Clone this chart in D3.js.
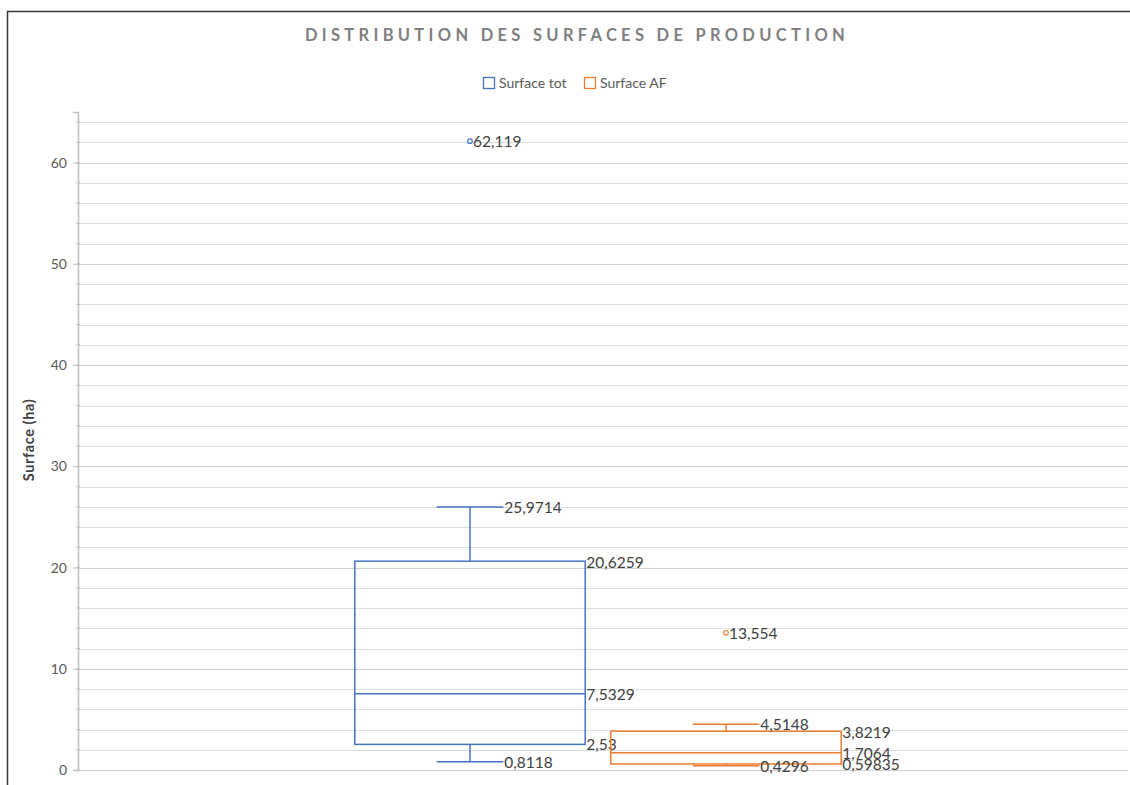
<!DOCTYPE html>
<html>
<head>
<meta charset="utf-8">
<script src="https://cdn.jsdelivr.net/npm/d3@7"></script>
<style>
  body { margin: 0; background: #fff; overflow: hidden; }
  text { font-family: Lato, "Open Sans", sans-serif; }
</style>
</head>
<body>
<div id="chart"></div>
<script>
(function () {

  // series and their box-plot stats
  const series = ['Surface tot', 'Surface AF']
  const colors = ['#4472C4', '#ED7D31']
  const mins = [0.8118, 0.4296]
  const q1s = [2.53, 0.59835]
  const medians = [7.5329, 1.7064]
  const q3s = [20.6259, 3.8219]
  const maxs = [25.9714, 4.5148]
  const outliers = [[62.119], [13.554]]

  const labelMin = ['0,8118', '0,4296']
  const labelQ1 = ['2,53', '0,59835']
  const labelMed = ['7,5329', '1,7064']
  const labelQ3 = ['20,6259', '3,8219']
  const labelMax = ['25,9714', '4,5148']
  const labelOut = [['62,119'], ['13,554']]

  const majorTicks = [0, 10, 20, 30, 40, 50, 60]

  const width = 1130
  const height = 785
  const margin = { top: 112, right: 2, bottom: 15, left: 78 }

  const svg = d3.select("#chart").append("svg")
    .attr("width", width)
    .attr("height", height)
    .style("display", "block")

  // chart frame (right and bottom edges fall outside the picture)
  svg.append("rect")
    .attr("x", 7.5).attr("y", 11.5)
    .attr("width", 1140).attr("height", 800)
    .attr("fill", "none")
    .attr("stroke", "#3a3a3a")
    .attr("stroke-width", 1.5)

  const yPositionScale = d3.scaleLinear()
    .domain([0, 65])
    .range([height - margin.bottom, margin.top])

  const xPositionScale = d3.scaleBand()
    .domain(series)
    .range([342, 854])

  const plotRight = width - margin.right

  // minor gridlines every 2
  const minor = d3.range(0, 65, 2)
  svg.append("g").selectAll("line")
    .data(minor)
    .join("line")
    .attr("x1", margin.left)
    .attr("x2", plotRight)
    .attr("y1", d => Math.round(yPositionScale(d)) + 0.5)
    .attr("y2", d => Math.round(yPositionScale(d)) + 0.5)
    .attr("stroke", "#dedede")
    .attr("stroke-width", 1)

  // major gridlines
  svg.append("g").selectAll("line")
    .data(majorTicks)
    .join("line")
    .attr("x1", margin.left)
    .attr("x2", plotRight)
    .attr("y1", d => Math.round(yPositionScale(d)) + 0.5)
    .attr("y2", d => Math.round(yPositionScale(d)) + 0.5)
    .attr("stroke", "#d0d0d0")
    .attr("stroke-width", 1.2)

  // y axis
  const yAxis = d3.axisLeft(yPositionScale)
    .tickValues(majorTicks)
    .tickSize(5)
    .tickPadding(6)
  const yg = svg.append("g")
    .attr("class", "axis y-axis")
    .attr("transform", "translate(" + margin.left + ",0)")
    .call(yAxis)
  yg.select(".domain").attr("stroke", "#bfbfbf").attr("stroke-width", 1.5)
  yg.selectAll(".tick line").attr("stroke", "#bfbfbf")
  yg.selectAll(".tick text")
    .attr("fill", "#595959")
    .style("font-size", "14px")

  // minor ticks on the axis
  yg.append("g").selectAll("line")
    .data(minor)
    .join("line")
    .attr("x1", -2).attr("x2", 2)
    .attr("y1", d => yPositionScale(d))
    .attr("y2", d => yPositionScale(d))
    .attr("stroke", "#bfbfbf")

  // y axis title
  svg.append("text")
    .attr("transform", "translate(34,440) rotate(-90)")
    .attr("text-anchor", "middle")
    .attr("fill", "#404040")
    .style("font-size", "14.5px")
    .style("font-weight", "bold")
    .style("letter-spacing", "0.6px")
    .text("Surface (ha)")

  // title
  svg.append("text")
    .attr("x", 577)
    .attr("y", 41)
    .attr("text-anchor", "middle")
    .attr("fill", "#7f7f7f")
    .style("font-size", "16.5px")
    .style("font-weight", "bold")
    .style("letter-spacing", "4.3px")
    .text("DISTRIBUTION DES SURFACES DE PRODUCTION")

  // legend
  const legendX = [483, 584]
  const legend = svg.append("g").selectAll("g")
    .data(series)
    .join("g")
    .attr("transform", (d, i) => "translate(" + legendX[i] + ",77)")
  legend.append("rect")
    .attr("x", 0.5).attr("y", 0.5)
    .attr("width", 11).attr("height", 11)
    .attr("fill", "#fff")
    .attr("stroke", (d, i) => colors[i])
    .attr("stroke-width", 1.3)
  legend.append("text")
    .attr("x", 16)
    .attr("y", 11)
    .attr("fill", "#595959")
    .style("font-size", "14px")
    .text(d => d)

  // boxes
  const boxW = xPositionScale.bandwidth() * 0.9
  const capW = xPositionScale.bandwidth() * 0.26
  const labelStyle = sel => sel
    .attr("fill", "#404040")
    .attr("dominant-baseline", "central")
    .style("font-size", "15.5px")

  series.forEach((s, i) => {
    const cx = xPositionScale(s) + xPositionScale.bandwidth() / 2
    const g = svg.append("g")
    const col = colors[i]

    // whiskers
    g.append("line")
      .attr("x1", cx).attr("x2", cx)
      .attr("y1", yPositionScale(q3s[i])).attr("y2", yPositionScale(maxs[i]))
      .attr("stroke", col).attr("stroke-width", 1.5)
    g.append("line")
      .attr("x1", cx).attr("x2", cx)
      .attr("y1", yPositionScale(q1s[i])).attr("y2", yPositionScale(mins[i]))
      .attr("stroke", col).attr("stroke-width", 1.5)
    g.selectAll(".cap")
      .data([maxs[i], mins[i]])
      .join("line")
      .attr("class", "cap")
      .attr("x1", cx - capW / 2).attr("x2", cx + capW / 2)
      .attr("y1", d => yPositionScale(d)).attr("y2", d => yPositionScale(d))
      .attr("stroke", col).attr("stroke-width", 1.5)

    // box
    g.append("rect")
      .attr("x", cx - boxW / 2)
      .attr("y", yPositionScale(q3s[i]))
      .attr("width", boxW)
      .attr("height", yPositionScale(q1s[i]) - yPositionScale(q3s[i]))
      .attr("fill", "none")
      .attr("stroke", col).attr("stroke-width", 1.5)
    g.append("line")
      .attr("x1", cx - boxW / 2).attr("x2", cx + boxW / 2)
      .attr("y1", yPositionScale(medians[i])).attr("y2", yPositionScale(medians[i]))
      .attr("stroke", col).attr("stroke-width", 1.5)

    // outliers
    g.selectAll("circle")
      .data(outliers[i])
      .join("circle")
      .attr("cx", cx)
      .attr("cy", d => yPositionScale(d))
      .attr("r", 2.3)
      .attr("fill", "#fff")
      .attr("stroke", col).attr("stroke-width", 1.2)

    // labels
    g.append("text").call(labelStyle)
      .attr("x", cx + capW / 2 + 1).attr("y", yPositionScale(maxs[i]))
      .text(labelMax[i])
    g.append("text").call(labelStyle)
      .attr("x", cx + capW / 2 + 1).attr("y", yPositionScale(mins[i]))
      .text(labelMin[i])
    g.append("text").call(labelStyle)
      .attr("x", cx + boxW / 2 + 1).attr("y", yPositionScale(q3s[i]) + 1)
      .text(labelQ3[i])
    g.append("text").call(labelStyle)
      .attr("x", cx + boxW / 2 + 1).attr("y", yPositionScale(medians[i]))
      .text(labelMed[i])
    g.append("text").call(labelStyle)
      .attr("x", cx + boxW / 2 + 1).attr("y", yPositionScale(q1s[i]))
      .text(labelQ1[i])
    g.selectAll(".out-label")
      .data(outliers[i])
      .join("text")
      .attr("class", "out-label")
      .call(labelStyle)
      .attr("x", cx + 3)
      .attr("y", d => yPositionScale(d))
      .text((d, j) => labelOut[i][j])
  })

})();
</script>
</body>
</html>
